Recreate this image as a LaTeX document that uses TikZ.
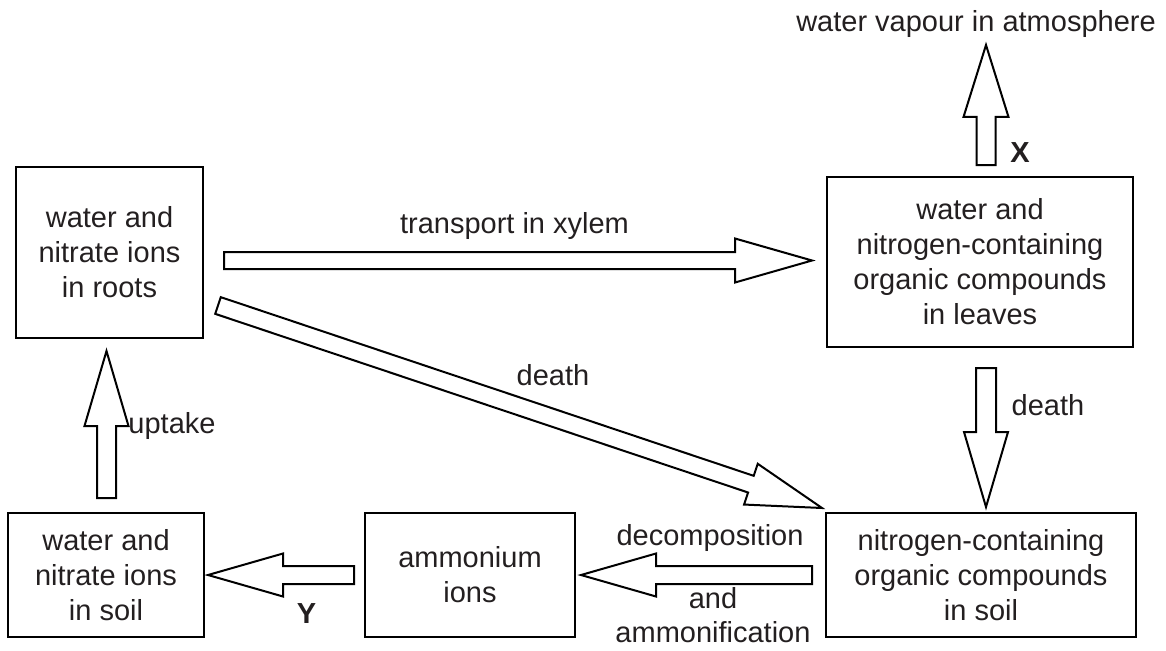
\documentclass[tikz,border=0pt]{standalone}
\usepackage{fontspec}
\setmainfont{Liberation Sans}
\usetikzlibrary{calc}
\definecolor{txt}{RGB}{35,31,32}
% fat outlined arrow: start, end, half shaft width, half head width, head length
\newcommand\fatarr[5]{%
  \coordinate (fah) at ($(#2)!#5pt!(#1)$);
  \draw[fatarrow] ($(#1)!#3pt!90:(#2)$) -- ($(fah)!#3pt!-90:(#1)$)
    -- ($(fah)!#4pt!-90:(#1)$) -- (#2) -- ($(fah)!#4pt!90:(#1)$)
    -- ($(fah)!#3pt!90:(#1)$) -- ($(#1)!#3pt!-90:(#2)$) -- cycle;}
\begin{document}
\begin{tikzpicture}[x=1pt,y=-1pt,
  box/.style={draw, line width=2.2pt, align=center, text=txt,
    font=\fontsize{29}{35}\selectfont, inner sep=0pt},
  lbl/.style={text=txt, font=\fontsize{29}{35}\selectfont, inner sep=0pt, anchor=base},
  fatarrow/.style={draw, fill=white, line width=2pt, line join=miter}]
\useasboundingbox (0,0) rectangle (1166,650);

% boxes
\node[box, minimum width=187pt, minimum height=171pt] (roots) at (109.5,252.5)
  {water and\\nitrate ions\\in roots};
\node[box, minimum width=306pt, minimum height=170pt] (leaves) at (980,262)
  {water and\\nitrogen-containing\\organic compounds\\in leaves};
\node[box, minimum width=196pt, minimum height=124pt] (nsoil) at (106,575)
  {water and\\nitrate ions\\in soil};
\node[box, minimum width=210pt, minimum height=124pt] (amm) at (470,575)
  {ammonium\\ions};
\node[box, minimum width=310pt, minimum height=124pt] (osoil) at (981,575)
  {nitrogen-containing\\organic compounds\\in soil};

% free label
\node[lbl] (vap) at (976,32) {water vapour in atmosphere};

% arrow end points
\coordinate (tr1) at (224,260.5);  \coordinate (tr2) at (812,260.5);
\coordinate (x1) at (986,165);     \coordinate (x2) at (986,45);
\coordinate (dd1) at (986,368);    \coordinate (dd2) at (986,507);
\coordinate (up1) at (106.5,498);  \coordinate (up2) at (106.5,351);
\coordinate (dg1) at (218,305.5);  \coordinate (dg2) at (822,508);
\coordinate (y1) at (354,575);     \coordinate (y2) at (208,575);
\coordinate (dc1) at (812,575);    \coordinate (dc2) at (581,575);

\fatarr{tr1}{tr2}{8.5}{22}{77}
\fatarr{x1}{x2}{9.5}{22.5}{72}
\fatarr{dd1}{dd2}{10}{22}{75}
\fatarr{up1}{up2}{9.5}{22}{75}
\fatarr{dg1}{dg2}{8.8}{21.5}{75}
\fatarr{y1}{y2}{9}{21.5}{75}
\fatarr{dc1}{dc2}{9}{21.5}{75}

% arrow labels
\node[lbl] (ltr) at (514.5,233) {transport in xylem};
\node[lbl] (ldg) at (553,385) {death};
\node[lbl] (ldd) at (1048,415) {death};
\node[lbl] (lup) at (172,433) {uptake};
\node[lbl] (ldc) at (710,545) {decomposition};
\node[lbl] (land) at (713,608) {and};
\node[lbl] (lamf) at (713,642) {ammonification};
\node[lbl, font=\fontsize{29}{35}\selectfont\bfseries] (lx) at (1020,162) {X};
\node[lbl, font=\fontsize{29}{35}\selectfont\bfseries] (ly) at (306.5,623) {Y};
\end{tikzpicture}
\end{document}
